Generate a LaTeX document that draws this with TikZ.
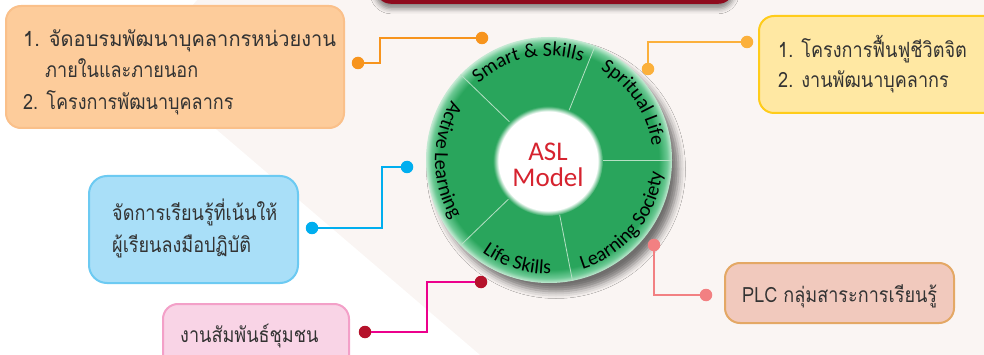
\documentclass[tikz,border=0pt]{standalone}
\usepackage{fontspec}
\newfontfamily\thai[Script=Thai, FakeStretch=0.86]{Loma}
\newfontfamily\thaiW[Script=Thai, FakeStretch=0.955]{Loma}
\newfontfamily\ring{Carlito}
\usetikzlibrary{decorations.text,shadows.blur}
\definecolor{bgpink}{HTML}{FAF5F3}
\definecolor{bannerred}{HTML}{8E0B1E}
\definecolor{ringg}{HTML}{29A55C}
\definecolor{ringmid}{HTML}{6CC994}
\definecolor{ringedge}{HTML}{C6EAD4}
\definecolor{segcol}{HTML}{B5E0C4}
\definecolor{aslred}{HTML}{D6232F}
\definecolor{txtgray}{HTML}{333333}
\definecolor{ofill}{HTML}{FDCC9B}
\definecolor{odraw}{HTML}{FAC08A}
\definecolor{yfill}{HTML}{FFE8A3}
\definecolor{ydraw}{HTML}{FFCC1A}
\definecolor{bfill}{HTML}{A9DFF8}
\definecolor{bdraw}{HTML}{6CCAF2}
\definecolor{pfill}{HTML}{F9D4E6}
\definecolor{pdraw}{HTML}{F3A0C8}
\definecolor{sfill}{HTML}{F1C9BD}
\definecolor{sdraw}{HTML}{E4A865}
\definecolor{oline}{HTML}{F7941D}
\definecolor{yline}{HTML}{FBB03B}
\definecolor{bline}{HTML}{00AEEF}
\definecolor{mline}{HTML}{EC008C}
\definecolor{mdot}{HTML}{B5122B}
\definecolor{sline}{HTML}{F28082}
\pgfdeclareradialshading{ringshade}{\pgfpoint{0bp}{0bp}}{color(0bp)=(ringg); color(22.3bp)=(ringg); color(24bp)=(ringmid); color(25bp)=(ringedge); color(50bp)=(ringedge)}
\pgfdeclareradialshading{innershade}{\pgfpoint{0bp}{0bp}}{color(0bp)=(white); color(22.5bp)=(white); color(25bp)=(ringg); color(50bp)=(ringg)}
\newcommand\ringtxt{\ring\fontsize{20}{22}\selectfont}
\begin{document}
\begin{tikzpicture}[x=1pt,y=-1pt,
  box/.style={rounded corners=15pt, line width=2pt, inner sep=0, anchor=north west},
  thtext/.style={font=\thai\fontsize{21}{24}\selectfont, text=txtgray, inner sep=0, anchor=base west},
  cdot/.style={circle, inner sep=0, minimum size=12.5pt, fill=#1},
  conn/.style={line width=2.8pt, draw=#1},
  segline/.style={draw=segcol, line width=0.8pt},
  arctext/.style={decorate, decoration={text along path, text align=center, text={#1}}}
]
\useasboundingbox (0,0) rectangle (984,355);
\fill[bgpink] (0,0) rectangle (984,355);
\fill[white] (0,0) -- (197,0) -- (141,65) -- (480,355) -- (0,355) -- cycle;
% banner
\node[fill=bannerred, rounded corners=16pt, minimum width=359pt, minimum height=44pt, anchor=south west, inner sep=0,
  blur shadow={shadow xshift=0pt, shadow yshift=-5pt, shadow blur radius=5pt, shadow opacity=45}] (banner) at (375,4) {};
% boxes
\node[box, fill=ofill, draw=odraw, minimum width=338pt, minimum height=122pt] (obox) at (5,5) {};
\node[box, fill=yfill, draw=ydraw, minimum width=240pt, minimum height=97pt] (ybox) at (758,15) {};
\node[box, fill=bfill, draw=bdraw, minimum width=209pt, minimum height=107pt, rounded corners=18pt] (bbox) at (88,175) {};
\node[box, fill=pfill, draw=pdraw, minimum width=186pt, minimum height=70pt] (pbox) at (162,303) {};
\node[box, fill=sfill, draw=sdraw, minimum width=229pt, minimum height=60pt] (sbox) at (724,262) {};
% circle
\begin{scope}[shift={(549,160)}, y=1pt]
  \path[fill=ringedge, blur shadow={shadow xshift=7pt, shadow yshift=-9pt, shadow blur radius=7pt, shadow opacity=55}] (0,0) circle (122.5);
  \shade[shading=ringshade] (0,0) circle (123);
  \foreach \a in {0,68,136,224,281} \draw[segline] (\a:52) -- (\a:123);
  \shade[shading=innershade] (-1,-1) circle (55);
  \node[font=\ring\fontsize{27}{26}\selectfont, text=aslred, align=center, inner sep=0] (asl) at (-1,-5) {ASL\\Model};
  \path[arctext={|\ringtxt|Smart {\&} Skills}] (136:104) arc[start angle=136, end angle=68, radius=104];
  \path[arctext={|\ringtxt|Spritual Life}] (68:104) arc[start angle=68, end angle=0, radius=104];
  \path[arctext={|\ringtxt|Active Learning}] (136:114) arc[start angle=136, end angle=224, radius=114];
  \path[arctext={|\ringtxt|Life Skills}] (224:114) arc[start angle=224, end angle=281, radius=114];
  \path[arctext={|\ringtxt|Learning Society}] (281:114) arc[start angle=281, end angle=360, radius=114];
\end{scope}
% dots
\node[cdot=oline] (od1) at (358,63) {};
\node[cdot=oline] (od2) at (482,38) {};
\node[cdot=yline] (yd1) at (747,42) {};
\node[cdot=yline] (yd2) at (648,69) {};
\node[cdot=bline] (bd1) at (312,228) {};
\node[cdot=bline] (bd2) at (407,167) {};
\node[cdot=mdot] (md1) at (365,332) {};
\node[cdot=mdot] (md2) at (481,282) {};
\node[cdot=sline] (sd1) at (654,245) {};
\node[cdot=sline] (sd2) at (706,295) {};
% connectors
\draw[conn=oline] (od1) -- ([xshift=22pt]od1.center) |- (od2);
\draw[conn=yline] (yd1) -| (yd2);
\draw[conn=bline] (bd1) -- ([xshift=70pt]bd1.center) |- (bd2);
\draw[conn=mline] (md1) -- ([xshift=62pt]md1.center) |- (md2);
\draw[conn=sline] (sd1) |- (sd2);
% texts
\node[thtext, font=\thaiW\fontsize{21}{24}\selectfont] (ot1) at (23,47) {1. จัดอบรมพัฒนาบุคลากรหน่วยงาน};
\node[thtext] (ot2) at (45,78) {ภายในและภายนอก};
\node[thtext] (ot3) at (23,110) {2. โครงการพัฒนาบุคลากร};
\node[thtext] (yt1) at (778,58) {1. โครงการฟื้นฟูชีวิตจิต};
\node[thtext] (yt2) at (778,88) {2. งานพัฒนาบุคลากร};
\node[thtext] (bt1) at (112,221) {จัดการเรียนรู้ที่เน้นให้};
\node[thtext] (bt2) at (112,252) {ผู้เรียนลงมือปฏิบัติ};
\node[thtext] (pt1) at (180,342) {งานสัมพันธ์ชุมชน};
\node[thtext] (st1) at (742,302) {PLC กลุ่มสาระการเรียนรู้};
\end{tikzpicture}
\end{document}
